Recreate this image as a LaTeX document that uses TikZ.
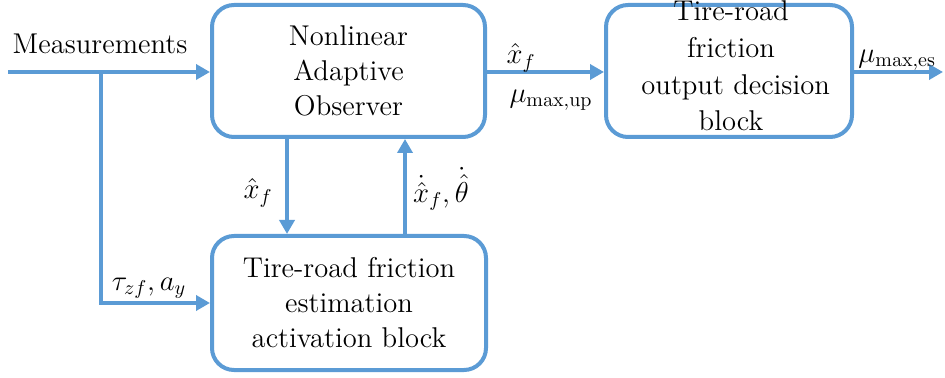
\documentclass[tikz,border=0pt]{standalone}
\usetikzlibrary{arrows.meta}
\definecolor{flow}{RGB}{91,155,213}
\begin{document}
\begin{tikzpicture}[x=0.5pt,y=-0.5pt,
  font=\fontsize{14.3}{17.5}\selectfont,
  block/.style={draw=flow, line width=2pt, rounded corners=11pt, inner sep=0pt, align=center},
  arr/.style={draw=flow, line width=2pt, -{Triangle[length=7pt,width=7.5pt]}},
  wire/.style={draw=flow, line width=2pt},
  lbl/.style={inner sep=0pt}]
\useasboundingbox (0,0) rectangle (945,378);

% blocks
\node[block, minimum width=136.5pt, minimum height=66pt] (obs) at (348.5,71)
  {Nonlinear\\ Adaptive\\ Observer};
\node[block, minimum width=137pt, minimum height=67pt] (act) at (349,303)
  {Tire-road friction\\ estimation\\ activation block};
\node[block, minimum width=123pt, minimum height=66pt, text height=0pt] (dec) at (729,71) {};
\node[lbl, align=center, font=\fontsize{14.3}{18.3}\selectfont] (dectext) at (731,66)
  {Tire-road\\ friction\\ \ output decision\\ block};

% input line and branch
\coordinate (in) at (8,72);
\coordinate (br) at (101,72);
\draw[arr] (in) -- (obs.west |- in);
\draw[arr] (br) |- (act.west);

% links between observer and activation block
\coordinate (dn) at (287,137);
\coordinate (up) at (405,236);
\draw[arr] (dn) -- (dn |- act.north);
\draw[arr] (up) -- (up |- obs.south);

% observer to decision block, and output
\draw[arr] (obs.east |- in) -- (dec.west |- in);
\coordinate (out) at (943,72);
\draw[arr] (dec.east |- in) -- (out);

% labels
\node[lbl] (meas) at (100,44) {Measurements};
\node[lbl] (l1) at (521,58) {$\hat{x}_f$};
\node[lbl] (l2) at (551,100) {$\mu_{\max,\mathrm{up}}$};
\node[lbl, anchor=west] (l3) at (858,60) {$\mu_{\max,\mathrm{es}}$};
\node[lbl] (l4) at (258,193) {$\hat{x}_f$};
\node[lbl] (l5) at (441,189) {$\dot{\hat{x}}_f,\dot{\hat{\theta}}$};
\node[lbl] (l6) at (149,288) {$\tau_{zf},a_y$};
\end{tikzpicture}
\end{document}
